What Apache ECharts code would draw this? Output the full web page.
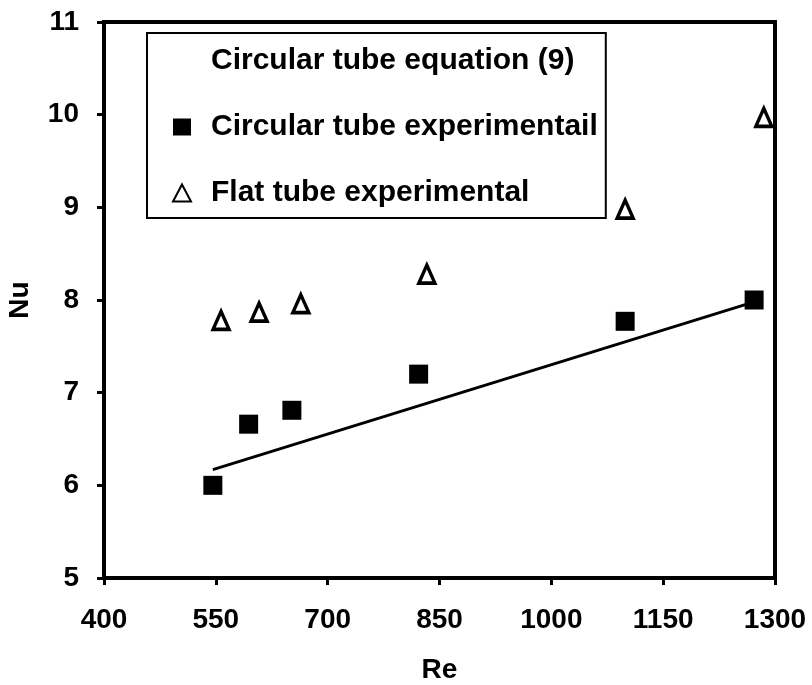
<!DOCTYPE html>
<html>
<head>
<meta charset="utf-8">
<script src="https://cdn.jsdelivr.net/npm/echarts@6/dist/echarts.min.js"></script>
<style>
  html, body { margin: 0; padding: 0; background: #fff; }
  #chart { width: 812px; height: 685px; }
</style>
</head>
<body>
<div id="chart"></div>
<script>
// values
let xTicks = [400, 550, 700, 850, 1000, 1150, 1300]
let yTicks = [5, 6, 7, 8, 9, 10, 11]

let equationLine = [[546, 6.17], [1272, 7.98]]
let circularExp = [[546, 6.0], [594, 6.66], [652, 6.81], [822, 7.2], [1099, 7.77], [1272, 8.0]]
let flatExp = [[557, 7.78], [608, 7.87], [664, 7.96], [833, 8.28], [1099, 8.98], [1285, 9.97]]

let seriesNames = ['Circular tube equation (9)', 'Circular tube experimentail', 'Flat tube experimental']

let font = '"Liberation Sans", Arial, sans-serif'
let chart = echarts.init(document.getElementById('chart'))

let axisCommon = {
    axisLine: { show: true, lineStyle: { color: '#000', width: 4 } },
    axisTick: { show: true, inside: false, length: 7, lineStyle: { color: '#000', width: 3 } },
    splitLine: { show: false },
    nameLocation: 'middle',
    nameTextStyle: { color: '#000', fontFamily: font, fontWeight: 'bold', fontSize: 28 }
}

let chartOpt = {
    animation: false,
    backgroundColor: '#fff',
    grid: {
        left: 104,
        right: 37,
        top: 22,
        bottom: 107,
        outerBoundsMode: 'none',
        containLabel: false,
        show: true,
        borderColor: '#000',
        borderWidth: 4
    },
    xAxis: Object.assign({}, axisCommon, {
        type: 'value',
        min: xTicks[0],
        max: xTicks[xTicks.length - 1],
        interval: xTicks[1] - xTicks[0],
        name: 'Re',
        nameGap: 78,
        axisLabel: { color: '#000', fontFamily: font, fontWeight: 'bold', fontSize: 28, margin: 28, formatter: v => String(v) }
    }),
    yAxis: Object.assign({}, axisCommon, {
        type: 'value',
        min: yTicks[0],
        max: yTicks[yTicks.length - 1],
        interval: 1,
        name: 'Nu',
        nameGap: 70,
        axisLabel: { color: '#000', fontFamily: font, fontWeight: 'bold', fontSize: 28, margin: 25, formatter: v => String(v) }
    }),
    legend: {
        orient: 'vertical',
        left: 147,
        top: 33,
        padding: [13, 8, 10, 25],
        itemGap: 36,
        itemWidth: 18,
        itemHeight: 17,
        borderColor: '#000',
        borderWidth: 2,
        backgroundColor: '#fff',
        formatter: name => '{t|' + name + '}',
        textStyle: {
            rich: {
                t: { color: '#000', fontFamily: font, fontWeight: 'bold', fontSize: 30, padding: [0, 0, 0, 15] }
            }
        },
        data: [
            { name: seriesNames[0], icon: 'rect', itemStyle: { color: 'rgba(0,0,0,0)', borderWidth: 0 } },
            { name: seriesNames[1] },
            { name: seriesNames[2] }
        ]
    },
    series: [
        {
            name: seriesNames[0],
            type: 'line',
            data: equationLine,
            symbol: 'none',
            lineStyle: { color: '#000', width: 3 },
            itemStyle: { color: '#000' }
        },
        {
            name: seriesNames[1],
            type: 'scatter',
            data: circularExp,
            symbol: 'rect',
            symbolSize: 19,
            itemStyle: { color: '#000', opacity: 1 }
        },
        {
            name: seriesNames[2],
            type: 'scatter',
            data: flatExp,
            symbol: 'triangle',
            symbolSize: [16, 18],
            itemStyle: { color: '#fff', borderColor: '#000', borderWidth: 3.5, opacity: 1 }
        }
    ]
}

chart.setOption(chartOpt)
</script>
</body>
</html>
